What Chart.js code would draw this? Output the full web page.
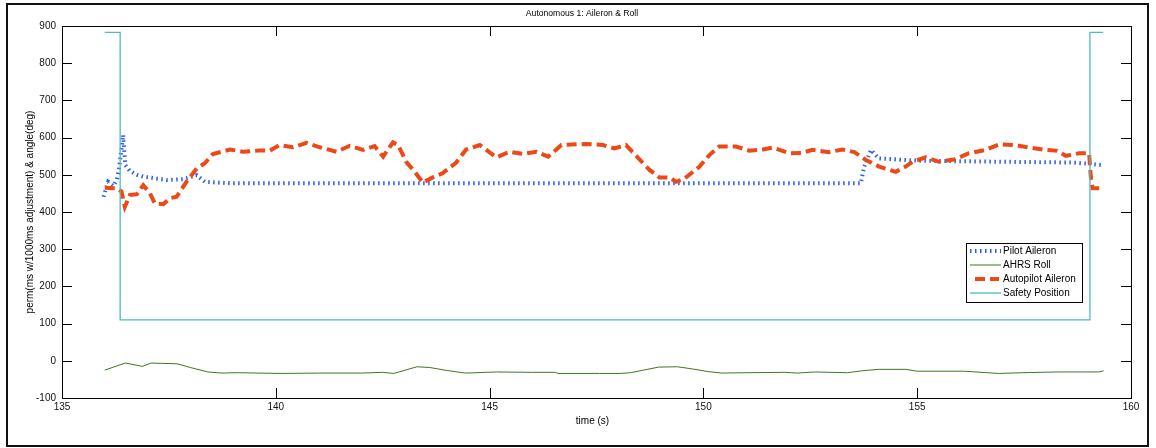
<!DOCTYPE html>
<html>
<head>
<meta charset="utf-8">
<script src="https://cdn.jsdelivr.net/npm/chart.js@4.4.1/dist/chart.umd.min.js"></script>
<style>
  html, body { margin: 0; padding: 0; background: #fff; }
  #wrap { width: 1156px; height: 448px; }
</style>
</head>
<body>
<div id="wrap"><canvas id="chart" width="1156" height="448"></canvas></div>
<script>
// axis ticks
const xTicks = [135, 140, 145, 150, 155, 160];
const yTicks = [-100, 0, 100, 200, 300, 400, 500, 600, 700, 800, 900];

// Pilot Aileron
const pilotT = [135.97, 136.08, 136.2, 136.28, 136.33, 136.38, 136.43, 136.48, 136.59, 136.75, 136.9, 137.2, 137.45, 137.83, 138.15, 138.34, 139.0, 153.68, 153.76, 153.92, 154.1, 155.0, 157.0, 158.62, 159.0, 159.33];
const pilotY = [441, 481, 470, 486, 513, 560, 607, 526, 510, 500, 495, 490, 486, 488, 499, 481, 477, 477, 522, 567, 544, 538, 535, 533, 530, 526];

// AHRS Roll
const rollT = [136.0, 136.48, 136.88, 137.08, 137.69, 138.0, 138.41, 138.74, 139.1, 140.1, 141.0, 142.0, 142.5, 142.76, 143.3, 143.6, 144.0, 144.44, 145.16, 146.0, 146.54, 146.6, 147.57, 148.06, 148.3, 148.95, 149.39, 149.75, 150.1, 150.43, 151.0, 151.9, 152.2, 152.6, 153.37, 153.7, 154.09, 154.73, 155.0, 156.1, 156.9, 157.47, 158.27, 159.24, 159.36];
const rollY = [-25, -6, -15, -6, -8, -18, -30, -33, -32, -34, -33, -33, -31, -34, -16, -18, -26, -33, -30, -31, -31, -34, -34, -34, -32, -17, -16, -22, -29, -33, -32, -31, -33, -30, -32, -27, -23, -23, -28, -28, -34, -32, -30, -30, -27];

// Autopilot Aileron
const autoT = [136.0, 136.28, 136.39, 136.47, 136.59, 136.75, 136.9, 137.06, 137.17, 137.37, 137.52, 137.68, 137.91, 138.15, 138.34, 138.53, 138.93, 139.24, 139.6, 139.86, 140.09, 140.4, 140.72, 141.03, 141.42, 141.73, 142.04, 142.31, 142.51, 142.74, 142.86, 143.05, 143.25, 143.44, 143.67, 143.9, 144.22, 144.45, 144.77, 145.16, 145.47, 145.78, 146.1, 146.37, 146.68, 147.26, 147.65, 147.92, 148.19, 148.5, 148.74, 148.97, 149.21, 149.36, 149.56, 149.91, 150.14, 150.37, 150.76, 151.07, 151.39, 151.62, 152.01, 152.3, 152.55, 152.94, 153.25, 153.53, 153.8, 154.11, 154.5, 154.73, 154.89, 155.2, 155.51, 155.9, 156.21, 156.6, 156.92, 157.3, 157.62, 158.01, 158.25, 158.48, 158.79, 159.02, 159.06, 159.1, 159.37];
const autoY = [465, 464, 455, 414, 446, 448, 472, 450, 423, 421, 437, 441, 481, 517, 531, 556, 568, 562, 565, 565, 580, 574, 586, 574, 562, 578, 567, 577, 549, 587, 580, 535, 508, 479, 493, 504, 533, 568, 580, 547, 562, 556, 562, 549, 580, 583, 580, 571, 580, 542, 513, 493, 493, 481, 490, 522, 553, 576, 576, 565, 568, 573, 558, 559, 567, 561, 568, 561, 540, 522, 508, 522, 535, 547, 535, 542, 558, 567, 582, 580, 573, 567, 565, 551, 558, 558, 495, 464, 464];

// Safety Position
const safetyT = [136.0, 136.36, 136.36, 159.04, 159.04, 159.35];
const safetyY = [883, 883, 110, 110, 883, 883];

function toPoints(ts, ys) {
    return ts.map((t, i) => ({ x: t, y: ys[i] }));
}

const FONT = "'Liberation Sans', Arial, sans-serif";

// white page and outer border
const pagePlugin = {
    id: 'page',
    beforeDraw(chart) {
        const ctx = chart.ctx;
        ctx.save();
        ctx.fillStyle = '#fff';
        ctx.fillRect(0, 0, chart.width, chart.height);
        ctx.strokeStyle = '#111';
        ctx.lineWidth = 2;
        ctx.strokeRect(7, 4, 1141, 442);
        ctx.restore();
    }
};

// axes box with inward ticks, titles, legend
const framePlugin = {
    id: 'frame',
    afterDraw(chart) {
        const { ctx, chartArea: a } = chart;
        const xs = chart.scales.x, ys = chart.scales.y;
        ctx.save();
        ctx.strokeStyle = '#000';
        ctx.lineWidth = 1;
        ctx.strokeRect(a.left + 0.5, a.top + 0.5, a.right - a.left, a.bottom - a.top);
        const len = 10;
        ctx.beginPath();
        xTicks.forEach(v => {
            const px = Math.round(xs.getPixelForValue(v)) + 0.5;
            ctx.moveTo(px, a.bottom); ctx.lineTo(px, a.bottom - len);
            ctx.moveTo(px, a.top); ctx.lineTo(px, a.top + len);
        });
        yTicks.forEach(v => {
            const py = Math.round(ys.getPixelForValue(v)) + 0.5;
            ctx.moveTo(a.left, py); ctx.lineTo(a.left + len, py);
            ctx.moveTo(a.right, py); ctx.lineTo(a.right - len, py);
        });
        ctx.stroke();

        // titles
        ctx.fillStyle = '#000';
        ctx.textAlign = 'center';
        ctx.textBaseline = 'middle';
        ctx.font = '8.6px ' + FONT;
        ctx.fillText('Autonomous 1: Aileron & Roll', 582, 14);
        ctx.font = '10px ' + FONT;
        ctx.fillText('time (s)', (a.left + a.right) / 2 - 4, 421);
        ctx.save();
        ctx.translate(30, (a.top + a.bottom) / 2);
        ctx.rotate(-Math.PI / 2);
        ctx.fillText('perm(ms w/1000ms adjustment) & angle(deg)', 0, 0);
        ctx.restore();

        // legend
        const bx = 966, by = 243, bw = 116, bh = 59;
        ctx.fillStyle = '#fff';
        ctx.fillRect(bx, by, bw, bh);
        ctx.strokeStyle = '#000';
        ctx.lineWidth = 1;
        ctx.strokeRect(bx + 0.5, by + 0.5, bw, bh);
        const rowY = [251, 265, 279, 293];
        chart.data.datasets.forEach((ds, i) => {
            const yy = rowY[i];
            ctx.save();
            ctx.strokeStyle = ds.borderColor;
            ctx.lineWidth = ds.borderWidth;
            ctx.setLineDash(ds.borderDash || []);
            ctx.beginPath();
            const x0 = ds.borderDash && ds.borderDash[0] > 5 ? 975 : 970;
            const x1 = ds.borderDash && ds.borderDash[0] > 5 ? 999 : 1001;
            ctx.moveTo(x0, yy); ctx.lineTo(x1, yy);
            ctx.stroke();
            ctx.restore();
            ctx.fillStyle = '#000';
            ctx.textAlign = 'left';
            ctx.fillText(ds.label, 1003, yy);
        });
        ctx.restore();
    }
};

new Chart(document.getElementById('chart'), {
    type: 'line',
    data: {
        datasets: [
            {
                label: 'Pilot Aileron',
                data: toPoints(pilotT, pilotY),
                borderColor: '#2b5cf0',
                borderWidth: 4,
                borderDash: [1.5, 3.5],
                order: 4
            },
            {
                label: 'AHRS Roll',
                data: toPoints(rollT, rollY),
                borderColor: '#3b7a1c',
                borderWidth: 1,
                order: 3
            },
            {
                label: 'Autopilot Aileron',
                data: toPoints(autoT, autoY),
                borderColor: '#ec4916',
                borderWidth: 4,
                borderDash: [10, 5],
                order: 2
            },
            {
                label: 'Safety Position',
                data: toPoints(safetyT, safetyY),
                borderColor: '#4cbcbc',
                borderWidth: 1.3,
                order: 1
            }
        ]
    },
    options: {
        responsive: false,
        animation: false,
        devicePixelRatio: 1,
        layout: { padding: { top: 26, right: 25, left: 0, bottom: 0 } },
        elements: { point: { radius: 0 }, line: { tension: 0, borderCapStyle: 'butt' } },
        plugins: { legend: { display: false }, tooltip: { enabled: false } },
        scales: {
            x: {
                type: 'linear',
                min: 135, max: 160,
                afterFit: s => { s.height = 50; },
                afterBuildTicks: s => { s.ticks = xTicks.map(v => ({ value: v })); },
                grid: { display: false, drawTicks: false },
                border: { display: false },
                ticks: { padding: 3, color: '#111', font: { family: FONT, size: 10 }, maxRotation: 0 }
            },
            y: {
                type: 'linear',
                min: -100, max: 900,
                afterFit: s => { s.width = 62; },
                afterBuildTicks: s => { s.ticks = yTicks.map(v => ({ value: v })); },
                grid: { display: false, drawTicks: false },
                border: { display: false },
                ticks: { padding: 6, color: '#111', font: { family: FONT, size: 10 } }
            }
        }
    },
    plugins: [pagePlugin, framePlugin]
});
</script>
</body>
</html>
